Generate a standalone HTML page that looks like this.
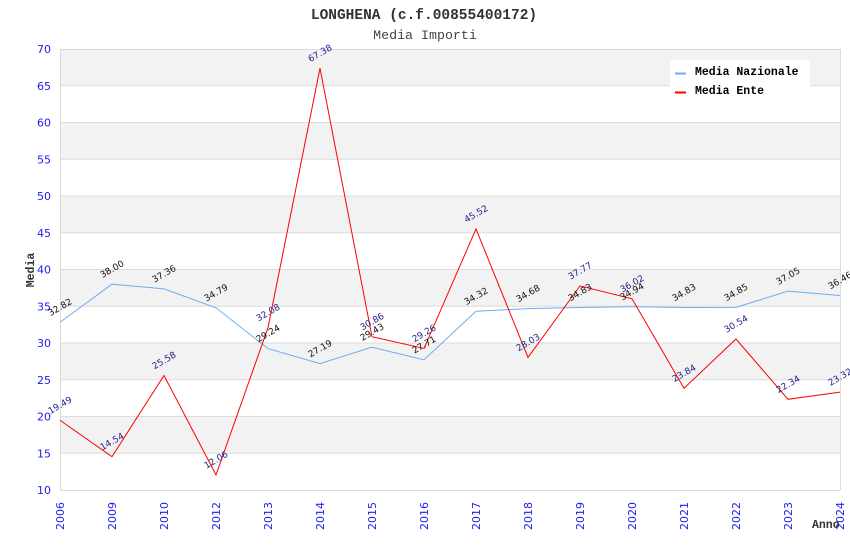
<!DOCTYPE html>
<html><head><meta charset="utf-8"><style>
html,body{margin:0;padding:0;background:#fff;}
svg{display:block;}
.tk{font-family:"DejaVu Sans","Liberation Sans",sans-serif;font-size:11px;fill:#2020f0;}
.vn{font-family:"DejaVu Sans","Liberation Sans",sans-serif;font-size:9px;fill:#111;}
.ve{font-family:"DejaVu Sans","Liberation Sans",sans-serif;font-size:9px;fill:#22228a;}
.mono{font-family:"Liberation Mono","DejaVu Sans Mono",monospace;}
</style></head><body>
<svg width="850" height="550" viewBox="0 0 850 550" xmlns="http://www.w3.org/2000/svg">
<rect width="850" height="550" fill="#fff"/>
<text x="424" y="19" text-anchor="middle" class="mono" font-size="14.5" font-weight="bold" fill="#333">LONGHENA (c.f.00855400172)</text>
<text x="425" y="39" text-anchor="middle" class="mono" font-size="13.3" fill="#444">Media Importi</text>
<!-- bands -->
<g fill="#f2f2f2">
<rect x="60" y="49" width="780" height="36.75"/>
<rect x="60" y="122.5" width="780" height="36.75"/>
<rect x="60" y="196" width="780" height="36.75"/>
<rect x="60" y="269.5" width="780" height="36.75"/>
<rect x="60" y="343" width="780" height="36.75"/>
<rect x="60" y="416.5" width="780" height="36.75"/>
</g>
<g stroke="#dcdcdc" stroke-width="1">
<line x1="60" x2="840" y1="49.5" y2="49.5"/>
<line x1="60" x2="840" y1="85.75" y2="85.75"/>
<line x1="60" x2="840" y1="122.5" y2="122.5"/>
<line x1="60" x2="840" y1="159.25" y2="159.25"/>
<line x1="60" x2="840" y1="196" y2="196"/>
<line x1="60" x2="840" y1="232.75" y2="232.75"/>
<line x1="60" x2="840" y1="269.5" y2="269.5"/>
<line x1="60" x2="840" y1="306.25" y2="306.25"/>
<line x1="60" x2="840" y1="343" y2="343"/>
<line x1="60" x2="840" y1="379.75" y2="379.75"/>
<line x1="60" x2="840" y1="416.5" y2="416.5"/>
<line x1="60" x2="840" y1="453.25" y2="453.25"/>
<line x1="60" x2="840" y1="490.5" y2="490.5"/>
<line x1="60.5" x2="60.5" y1="49" y2="490"/>
<line x1="840.5" x2="840.5" y1="49" y2="490"/>
</g>
<!-- y ticks -->
<g class="tk" text-anchor="end">
<text x="51" y="53">70</text>
<text x="51" y="89.75">65</text>
<text x="51" y="126.5">60</text>
<text x="51" y="163.25">55</text>
<text x="51" y="200">50</text>
<text x="51" y="236.75">45</text>
<text x="51" y="273.5">40</text>
<text x="51" y="310.25">35</text>
<text x="51" y="347">30</text>
<text x="51" y="383.75">25</text>
<text x="51" y="420.5">20</text>
<text x="51" y="457.25">15</text>
<text x="51" y="494">10</text>
</g>
<!-- x ticks -->
<g class="tk" text-anchor="end">
<text transform="translate(64,502) rotate(-90)">2006</text>
<text transform="translate(116,502) rotate(-90)">2009</text>
<text transform="translate(168,502) rotate(-90)">2010</text>
<text transform="translate(220,502) rotate(-90)">2012</text>
<text transform="translate(272,502) rotate(-90)">2013</text>
<text transform="translate(324,502) rotate(-90)">2014</text>
<text transform="translate(376,502) rotate(-90)">2015</text>
<text transform="translate(428,502) rotate(-90)">2016</text>
<text transform="translate(480,502) rotate(-90)">2017</text>
<text transform="translate(532,502) rotate(-90)">2018</text>
<text transform="translate(584,502) rotate(-90)">2019</text>
<text transform="translate(636,502) rotate(-90)">2020</text>
<text transform="translate(688,502) rotate(-90)">2021</text>
<text transform="translate(740,502) rotate(-90)">2022</text>
<text transform="translate(792,502) rotate(-90)">2023</text>
<text transform="translate(844,502) rotate(-90)">2024</text>
</g>
<text transform="translate(34,270) rotate(-90)" text-anchor="middle" class="mono" font-size="11.5" font-weight="bold" fill="#333">Media</text>
<text x="812" y="528" class="mono" font-size="11.5" font-weight="bold" fill="#333">Anno</text>
<!-- series -->
<polyline fill="none" stroke="#6aaef0" stroke-width="1" points="60,322.27 112,284.2 164,288.9 216,307.79 268,348.59 320,363.65 372,347.19 424,359.83 476,311.25 528,308.6 580,307.5 632,306.69 684,307.5 736,307.35 788,291.18 840,295.52"/>
<polyline fill="none" stroke="#ff0000" stroke-width="1" points="60,420.25 112,456.63 164,375.49 216,474.86 268,327.71 320,68.26 372,336.68 424,348.44 476,228.93 528,357.48 580,285.89 632,298.75 684,388.28 736,339.03 788,399.3 840,392.1"/>
<!-- labels nazionale -->
<g class="vn" text-anchor="middle">
<text transform="translate(61.5,309.8) rotate(-30)">32.82</text>
<text transform="translate(113.5,271.7) rotate(-30)">38.00</text>
<text transform="translate(165.5,276.4) rotate(-30)">37.36</text>
<text transform="translate(217.5,295.3) rotate(-30)">34.79</text>
<text transform="translate(269.5,336.1) rotate(-30)">29.24</text>
<text transform="translate(321.5,351.2) rotate(-30)">27.19</text>
<text transform="translate(373.5,334.7) rotate(-30)">29.43</text>
<text transform="translate(425.5,347.3) rotate(-30)">27.71</text>
<text transform="translate(477.5,298.8) rotate(-30)">34.32</text>
<text transform="translate(529.5,296.1) rotate(-30)">34.68</text>
<text transform="translate(581.5,295) rotate(-30)">34.83</text>
<text transform="translate(633.5,294.2) rotate(-30)">34.94</text>
<text transform="translate(685.5,295) rotate(-30)">34.83</text>
<text transform="translate(737.5,294.9) rotate(-30)">34.85</text>
<text transform="translate(789.5,278.7) rotate(-30)">37.05</text>
<text transform="translate(841.5,283) rotate(-30)">36.46</text>
</g>
<g class="ve" text-anchor="middle">
<text transform="translate(61.5,407.8) rotate(-30)">19.49</text>
<text transform="translate(113.5,444.1) rotate(-30)">14.54</text>
<text transform="translate(165.5,363) rotate(-30)">25.58</text>
<text transform="translate(217.5,462.4) rotate(-30)">12.06</text>
<text transform="translate(269.5,315.2) rotate(-30)">32.08</text>
<text transform="translate(321.5,55.8) rotate(-30)">67.38</text>
<text transform="translate(373.5,324.2) rotate(-30)">30.86</text>
<text transform="translate(425.5,335.9) rotate(-30)">29.26</text>
<text transform="translate(477.5,216.4) rotate(-30)">45.52</text>
<text transform="translate(529.5,345) rotate(-30)">28.03</text>
<text transform="translate(581.5,273.4) rotate(-30)">37.77</text>
<text transform="translate(633.5,286.3) rotate(-30)">36.02</text>
<text transform="translate(685.5,375.8) rotate(-30)">23.84</text>
<text transform="translate(737.5,326.5) rotate(-30)">30.54</text>
<text transform="translate(789.5,386.8) rotate(-30)">22.34</text>
<text transform="translate(841.5,379.6) rotate(-30)">23.32</text>
</g>
<!-- legend -->
<rect x="670" y="60" width="140" height="40" fill="#fff"/>
<line x1="675" x2="686" y1="73.5" y2="73.5" stroke="#6aaef0" stroke-width="2"/>
<line x1="675" x2="686" y1="92.5" y2="92.5" stroke="#ff0000" stroke-width="2"/>
<text x="695" y="75" class="mono" font-size="11.5" font-weight="bold" fill="#000">Media Nazionale</text>
<text x="695" y="94" class="mono" font-size="11.5" font-weight="bold" fill="#000">Media Ente</text>
</svg>
</body></html>
